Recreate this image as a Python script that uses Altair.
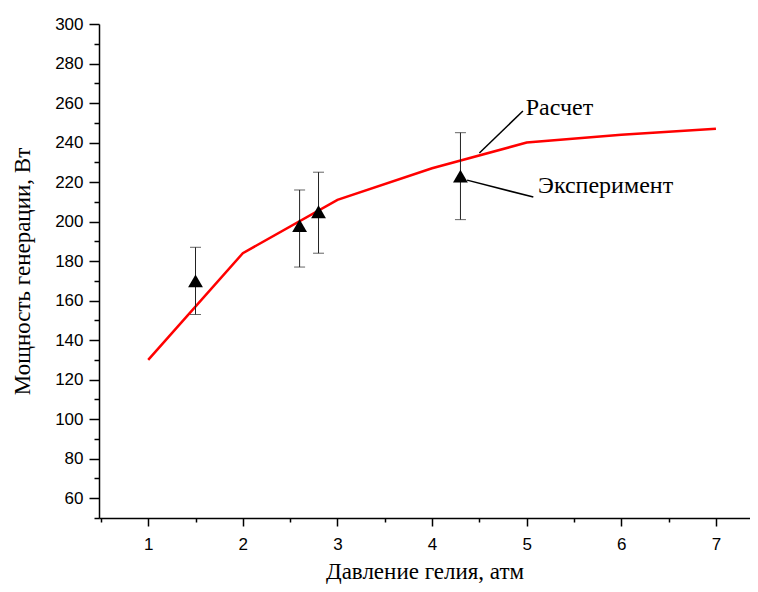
import altair as alt
import pandas as pd

# Calculated curve (Расчет)
pressure_calc = [1, 2, 3, 4, 5, 6, 7]
power_calc = [130, 184, 211, 227, 240, 244, 247]

# Experimental points (Эксперимент)
pressure_exp = [1.5, 2.6, 2.8, 4.3]
power_exp = [170, 198, 205, 223]
err_low = [153, 177, 184, 201]
err_high = [187, 216, 225, 245]

# Annotation labels and leader lines
label_text = ["Расчет", "Эксперимент"]
label_x = [4.99, 5.12]
label_y = [257.5, 218]
leader_x1 = [4.50, 4.37]
leader_y1 = [234.7, 221]
leader_x2 = [4.96, 5.07]
leader_y2 = [256.0, 212.4]

x_major = [1, 2, 3, 4, 5, 6, 7]
x_minor = [0.5, 1.5, 2.5, 3.5, 4.5, 5.5, 6.5]
y_major = list(range(60, 301, 20))
y_minor = list(range(50, 300, 20))

calc = pd.DataFrame({"p": pressure_calc, "w": power_calc})
exp = pd.DataFrame({"p": pressure_exp, "w": power_exp, "lo": err_low, "hi": err_high})
labels = pd.DataFrame({"t": label_text, "x": label_x, "y": label_y})
leaders = pd.DataFrame({"x1": leader_x1, "y1": leader_y1, "x2": leader_x2, "y2": leader_y2})

xs = alt.Scale(domain=[0.48, 7.36], nice=False, zero=False)
ys = alt.Scale(domain=[50, 300], nice=False, zero=False)

x_axis = alt.Axis(
    title="Давление гелия, атм",
    values=x_major,
    format="d",
    labelOverlap=False,
    tickSize=8,
    labelPadding=10,
    titlePadding=8,
    orient="bottom",
    grid=False,
)
y_axis = alt.Axis(
    title="Мощность генерации, Вт",
    values=y_major,
    format="d",
    labelOverlap=False,
    tickSize=10,
    labelPadding=6,
    titlePadding=20,
    orient="left",
    grid=False,
)
x_minor_axis = alt.Axis(
    title=None, values=x_minor, labels=False, domain=False, tickSize=4, orient="bottom", grid=False
)
y_minor_axis = alt.Axis(
    title=None, values=y_minor, labels=False, domain=False, tickSize=5, orient="left", grid=False
)

line = alt.Chart(calc).mark_line(color="#ff0000", strokeWidth=2.5).encode(
    x=alt.X("p:Q", scale=xs, axis=x_axis),
    y=alt.Y("w:Q", scale=ys, axis=y_axis),
)

err = alt.Chart(exp).mark_rule(color="#222222", strokeWidth=1).encode(
    x=alt.X("p:Q", scale=xs, axis=x_minor_axis),
    y=alt.Y("lo:Q", scale=ys, axis=y_minor_axis),
    y2="hi:Q",
)
cap_lo = alt.Chart(exp).mark_tick(color="#222222", thickness=1, size=11, orient="horizontal").encode(
    x=alt.X("p:Q", axis=None), y=alt.Y("lo:Q", axis=None)
)
cap_hi = alt.Chart(exp).mark_tick(color="#222222", thickness=1, size=11, orient="horizontal").encode(
    x=alt.X("p:Q", axis=None), y=alt.Y("hi:Q", axis=None)
)
pts = alt.Chart(exp).mark_point(shape="triangle-up", filled=True, color="black", size=220, opacity=1).encode(
    x=alt.X("p:Q", axis=None), y=alt.Y("w:Q", axis=None)
)

lead = alt.Chart(leaders).mark_rule(color="black", strokeWidth=1.5).encode(
    x=alt.X("x1:Q", axis=None), y=alt.Y("y1:Q", axis=None), x2="x2:Q", y2="y2:Q"
)
txt = alt.Chart(labels).mark_text(
    align="left", baseline="middle", font="Liberation Serif", fontSize=24, color="black"
).encode(x=alt.X("x:Q", axis=None), y=alt.Y("y:Q", axis=None), text="t:N")

chart = alt.layer(line, err, cap_lo, cap_hi, pts, lead, txt).resolve_axis(
    x="independent", y="independent"
).properties(
    width=651,
    height=494,
    autosize=alt.AutoSizeParams(type="none"),
    padding={"left": 91, "top": 16, "right": 0, "bottom": 66},
).configure_view(stroke=None).configure_axis(
    domainColor="black",
    domainWidth=1.5,
    tickColor="black",
    tickWidth=1.5,
    labelFont="Liberation Sans",
    labelFontSize=17,
    labelColor="black",
    titleFont="Liberation Serif",
    titleFontSize=23,
    titleFontWeight="normal",
    titleColor="black",
)

chart.save("out.html", embed_options={"renderer": "svg", "actions": False})
